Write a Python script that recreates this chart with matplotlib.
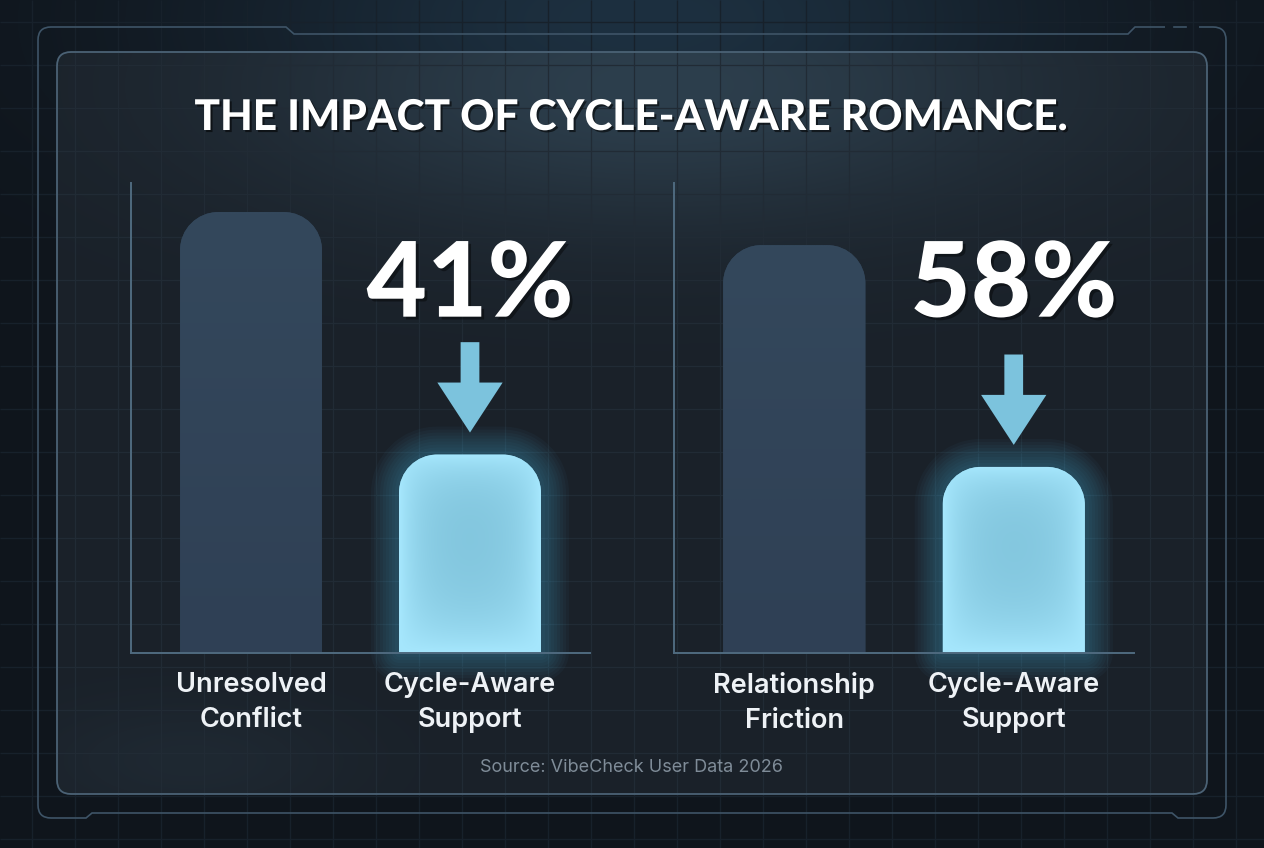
"""Cycle-aware romance impact chart: two before/after bar pairs on a dark HUD panel."""

import numpy as np
import matplotlib
matplotlib.use("Agg")
import matplotlib.pyplot as plt
import matplotlib.patheffects as pe
from matplotlib.collections import LineCollection
from matplotlib.colors import to_rgb
from matplotlib.patches import FancyBboxPatch, PathPatch
from matplotlib.path import Path

# ── Data ────────────────────────────────────────────────────────────────────
TITLE = "THE IMPACT OF CYCLE-AWARE ROMANCE."
SOURCE = "Source: VibeCheck User Data 2026"

LEFT_CATEGORIES = ["Unresolved\nConflict", "Cycle-Aware\nSupport"]
LEFT_VALUES = [100.0, 45.0]
RIGHT_CATEGORIES = ["Relationship\nFriction", "Cycle-Aware\nSupport"]
RIGHT_VALUES = [92.5, 42.2]
REDUCTION_LABELS = ["41%", "58%"]

# ── Style ───────────────────────────────────────────────────────────────────
W, H = 1264, 848
BG = "#0f151c"
PANEL = "#1a2129"
PANEL_EDGE = "#4b6275"
FRAME = "#3e5467"
AXIS = "#4f6a7f"
DARK_BAR = "#2f4256"
LIGHT_EDGE = "#a6e7fd"
LIGHT_CENTER = "#7dc1d9"
ARROW = "#7cc3dd"
TEXT = "#eef2f6"
MUTED = "#7f8c98"
HEAD_FONT = ["Lato", "DejaVu Sans"]

BAR_W = 0.648
XLIM = (-0.548, 1.548)
YLIM = (0, 106.6)
RADIUS_PX = 38


def blend(c0, c1, t):
    c0 = np.array(to_rgb(c0))
    c1 = np.array(to_rgb(c1))
    return c0 + (c1 - c0) * np.clip(t, 0, 1)[..., None]


def rounded_top(x0, x1, h, rx, ry):
    k = 0.5523
    verts = [
        (x0, 0), (x0, h - ry),
        (x0, h - ry + k * ry), (x0 + rx - k * rx, h), (x0 + rx, h),
        (x1 - rx, h),
        (x1 - rx + k * rx, h), (x1, h - ry + k * ry), (x1, h - ry),
        (x1, 0), (x0, 0),
    ]
    codes = [Path.MOVETO, Path.LINETO,
             Path.CURVE4, Path.CURVE4, Path.CURVE4,
             Path.LINETO,
             Path.CURVE4, Path.CURVE4, Path.CURVE4,
             Path.LINETO, Path.CLOSEPOLY]
    return Path(verts, codes)


fig = plt.figure(figsize=(W / 100, H / 100), dpi=100)
fig.patch.set_facecolor(BG)

# Background in pixel coordinates
ax_bg = fig.add_axes([0, 0, 1, 1])
ax_bg.set_xlim(0, W)
ax_bg.set_ylim(H, 0)
ax_bg.axis("off")

yy, xx = np.mgrid[0:H, 0:W]


def glow(cx, cy, sx, sy):
    return np.exp(-(((xx - cx) / sx) ** 2 + ((yy - cy) / sy) ** 2))


ax_bg.imshow(blend(BG, "#1d3040", glow(640, 20, 420, 170)),
             extent=(0, W, H, 0), aspect="auto", zorder=0, interpolation="bilinear")

grid_x = np.arange(32, W, 43)
grid_y = np.arange(22, H, 43)
segs = [[(x, 0), (x, H)] for x in grid_x] + [[(0, y), (W, y)] for y in grid_y]
ax_bg.add_collection(LineCollection(segs, colors="#17212b", linewidths=1.0, zorder=0.5))

# Panel
panel_fill = FancyBboxPatch((57, 52), 1150, 742, boxstyle="round,pad=0,rounding_size=14",
                            fc=PANEL, ec="none", zorder=1)
ax_bg.add_patch(panel_fill)
pimg = ax_bg.imshow(blend(PANEL, "#2d3f4d", glow(660, 85, 400, 140) + 0.25 * glow(190, 760, 160, 60)),
                    extent=(0, W, H, 0), aspect="auto", zorder=1.1, interpolation="bilinear")
pimg.set_clip_path(panel_fill)
inner_grid = LineCollection(segs, colors="#212b35", linewidths=0.9, zorder=1.2)
ax_bg.add_collection(inner_grid)
inner_grid.set_clip_path(panel_fill)
ax_bg.add_patch(FancyBboxPatch((57, 52), 1150, 742, boxstyle="round,pad=0,rounding_size=14",
                               fc="none", ec=PANEL_EDGE, lw=1.3, zorder=3))

# Outer HUD frame
C3 = Path.CURVE3
frame_verts = [
    (1199, 27), (1213, 27), (1226, 27), (1226, 40),
    (1226, 805), (1226, 818), (1213, 818),
    (1178, 818), (1172, 813), (92, 813), (86, 818), (51, 818),
    (38, 818), (38, 805),
    (38, 40), (38, 27), (51, 27),
    (286, 27), (294, 34), (1128, 34), (1135, 27), (1165, 27),
]
frame_codes = [Path.MOVETO, Path.LINETO, C3, C3,
               Path.LINETO, C3, C3,
               Path.LINETO, Path.LINETO, Path.LINETO, Path.LINETO, Path.LINETO,
               C3, C3,
               Path.LINETO, C3, C3,
               Path.LINETO, Path.LINETO, Path.LINETO, Path.LINETO, Path.LINETO]
ax_bg.add_patch(PathPatch(Path(frame_verts, frame_codes), fill=False, ec=FRAME, lw=1.2, zorder=0.8))
ax_bg.plot([1174, 1186], [27, 27], color=FRAME, lw=1.2, zorder=0.8)

# Title and source
ax_bg.text(632, 118, TITLE, ha="center", va="center", fontsize=30.5, fontweight="black",
           family=HEAD_FONT, color="white", zorder=5,
           path_effects=[pe.withSimplePatchShadow(offset=(1.5, -1.5), shadow_rgbFace="black", alpha=0.55)])
ax_bg.text(632, 767, SOURCE, ha="center", va="center", fontsize=13,
           family=["Inter", "DejaVu Sans"], color=MUTED, zorder=5)


# ── Charts ──────────────────────────────────────────────────────────────────
def draw_pair(rect, categories, values, reduction):
    ax = fig.add_axes(rect)
    ax.set_facecolor("none")
    ax.set_xlim(*XLIM)
    ax.set_ylim(*YLIM)
    for s in ("top", "right"):
        ax.spines[s].set_visible(False)
    for s in ("left", "bottom"):
        ax.spines[s].set_color(AXIS)
        ax.spines[s].set_linewidth(1.4)
    ax.set_yticks([])
    ax.set_xticks([0, 1])
    ax.set_xticklabels(categories, fontsize=19.5, color=TEXT, fontweight="semibold",
                       family=["Inter", "DejaVu Sans"], linespacing=1.42)
    ax.tick_params(axis="x", length=0, pad=14)

    p0 = ax.transData.transform((0, 0))
    p1 = ax.transData.transform((1, 1))
    ppx, ppy = p1 - p0
    rx, ry = RADIUS_PX / ppx, RADIUS_PX / ppy

    # Baseline bar
    h0 = values[0]
    dark = PathPatch(rounded_top(-BAR_W / 2, BAR_W / 2, h0, rx, ry), fc=DARK_BAR, ec="none", zorder=2)
    ax.add_patch(dark)
    v = np.linspace(0, 1, 100)[:, None] * np.ones((1, 4))
    dimg = ax.imshow(blend("#2f4055", "#34485c", v), extent=(-BAR_W / 2, BAR_W / 2, 0, h0),
                     origin="lower", aspect="auto", zorder=2.1, interpolation="bilinear")
    dimg.set_clip_path(dark)

    # Glowing support bar
    h1 = values[1]
    path = rounded_top(1 - BAR_W / 2, 1 + BAR_W / 2, h1, rx, ry)
    for lw_px in np.arange(56, 4, -6):
        ax.add_patch(PathPatch(path, fill=False, ec="#55c6f2", lw=lw_px / 1.389, alpha=0.035,
                               joinstyle="round", zorder=1.5, clip_on=False))
    light = PathPatch(path, fc=LIGHT_CENTER, ec="none", zorder=2)
    ax.add_patch(light)
    U, V = np.meshgrid(np.linspace(0, 1, 90), np.linspace(0, 1, 140))
    wpx, hpx = BAR_W * ppx, h1 * ppy

    def soft(dist, scale):
        return 1 - np.exp(-dist / scale)

    t = (soft(U * wpx, 22) * soft((1 - U) * wpx, 22)
         * soft((1 - V) * hpx, 26) * soft(V * hpx, 40))
    limg = ax.imshow(blend(LIGHT_EDGE, LIGHT_CENTER, t),
                     extent=(1 - BAR_W / 2, 1 + BAR_W / 2, 0, h1),
                     origin="lower", aspect="auto", zorder=2.1, interpolation="bilinear")
    limg.set_clip_path(light)

    # Reduction arrow and label
    ax.annotate("", xy=(1, h1 + 5.0), xytext=(1, h1 + 25.5),
                arrowprops=dict(arrowstyle="simple,head_length=36,head_width=47,tail_width=13.5",
                                mutation_scale=1, fc=ARROW, ec="none", shrinkA=0, shrinkB=0),
                zorder=3)
    ax.text(1, 83.2, reduction, ha="center", va="center", fontsize=75, fontweight="black",
            family=HEAD_FONT, color="white", zorder=4,
            path_effects=[pe.withSimplePatchShadow(offset=(2, -2), shadow_rgbFace="black", alpha=0.4)])
    ax.set_xlim(*XLIM)
    ax.set_ylim(*YLIM)
    return ax


draw_pair([131 / W, 1 - 653 / H, 459 / W, 470 / H], LEFT_CATEGORIES, LEFT_VALUES, REDUCTION_LABELS[0])
draw_pair([674 / W, 1 - 653 / H, 460 / W, 470 / H], RIGHT_CATEGORIES, RIGHT_VALUES, REDUCTION_LABELS[1])

fig.savefig("out.png", dpi=100, facecolor=BG)
plt.close(fig)
